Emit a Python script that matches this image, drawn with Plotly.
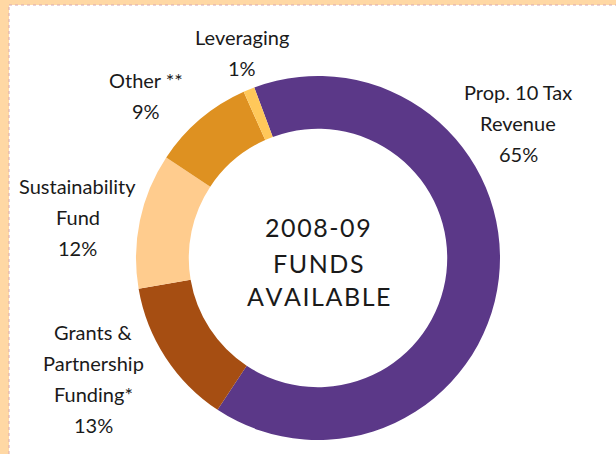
import plotly.graph_objects as go

# ---- data ----
labels = ["Prop. 10 Tax Revenue", "Grants & Partnership Funding*", "Sustainability Fund", "Other **", "Leveraging"]
label_lines = [["Prop. 10 Tax", "Revenue"], ["Grants &", "Partnership", "Funding*"],
               ["Sustainability", "Fund"], ["Other **"], ["Leveraging"]]
values = [65, 13, 12, 9, 1]
colors = ["#5B3888", "#A64E12", "#FFCC8E", "#DE9121", "#FFC85A"]
center_lines = ["2008-09", "FUNDS", "AVAILABLE"]

W, H = 616, 454
# label placement (pixel centres of the first line), styling only
label_pos = [(518, 92), (93, 332), (78, 186), (146, 80), (242, 37)]
line_gap = 31

fig = go.Figure(go.Pie(
    labels=labels, values=values, sort=False, direction="clockwise",
    rotation=-20.5, hole=0.71, textinfo="none",
    marker=dict(colors=colors, line=dict(width=0)),
    domain=dict(x=[136 / W, 500 / W], y=[1 - 440 / H, 1 - 76 / H]),
    showlegend=False,
))

annotations = []
font_lbl = dict(family="Lato, 'Open Sans', sans-serif", size=20, color="#1a1a1a")
for lines, v, (px, py) in zip(label_lines, values, label_pos):
    for i, t in enumerate(lines + [f"{v}%"]):
        annotations.append(dict(x=px / W, y=1 - (py + i * line_gap) / H, xref="paper", yref="paper",
                                text=t, showarrow=False, xanchor="center", yanchor="middle", font=font_lbl))

hair = "\u200a"
font_ctr = dict(family="Lato, 'Open Sans', sans-serif", size=25, color="#1a1a1a")
for t, py in zip(center_lines, [227, 263, 296]):
    annotations.append(dict(x=318 / W, y=1 - py / H, xref="paper", yref="paper",
                            text=hair.join(t), showarrow=False, xanchor="center", yanchor="middle",
                            font=font_ctr))

shapes = [
    dict(type="rect", xref="paper", yref="paper", x0=0, x1=1, y0=0, y1=1,
         fillcolor="#FFD8A4", line=dict(width=0), layer="below"),
    dict(type="rect", xref="paper", yref="paper", x0=9 / W, x1=1, y0=0, y1=1 - 5 / H,
         fillcolor="white", line=dict(width=0), layer="below"),
    dict(type="line", xref="paper", yref="paper", x0=9 / W, x1=9 / W, y0=0, y1=1 - 5 / H,
         line=dict(color="#D8A8B0", width=1, dash="dot"), layer="below"),
    dict(type="line", xref="paper", yref="paper", x0=9 / W, x1=1, y0=1 - 5 / H, y1=1 - 5 / H,
         line=dict(color="#D8A8B0", width=1, dash="dot"), layer="below"),
]

fig.update_layout(
    width=W, height=H, margin=dict(l=0, r=0, t=0, b=0),
    paper_bgcolor="white", plot_bgcolor="white",
    annotations=annotations, shapes=shapes,
)

fig.write_html("out.html", config={"displayModeBar": False},
               post_script="document.body.style.margin='0px';")
